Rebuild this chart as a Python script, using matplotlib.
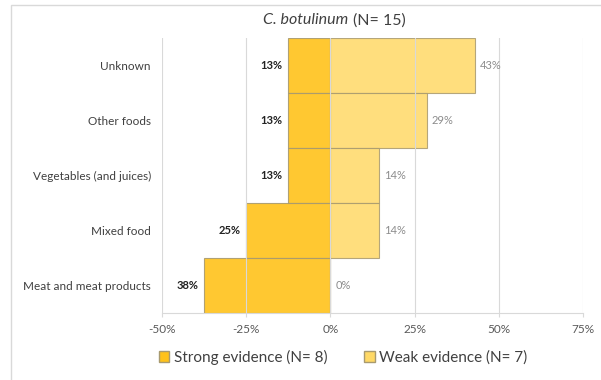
import matplotlib.pyplot as plt
from matplotlib.patches import Rectangle, Patch

plt.rcParams['font.family'] = ['Lato', 'DejaVu Sans']

# data (shares of outbreaks, %)
categories = ["Unknown", "Other foods", "Vegetables (and juices)", "Mixed food", "Meat and meat products"]
strong = [12.5, 12.5, 12.5, 25.0, 37.5]
weak = [42.9, 28.6, 14.3, 14.3, 0.0]
strong_labels = ["13%", "13%", "13%", "25%", "38%"]
weak_labels = ["43%", "29%", "14%", "14%", "0%"]
ticks = [-50, -25, 0, 25, 50, 75]

c_strong = "#FFC21A"
c_weak = "#FFD966"

fig = plt.figure(figsize=(6.01, 3.8), dpi=100)
fig.patches.append(Rectangle((0.019, -0.05), 1.1, 1.037, transform=fig.transFigure,
                             fill=False, edgecolor="#d9d9d9", linewidth=1))
ax = fig.add_axes([0.2696, 0.176, 0.7005, 0.724])

y = list(range(len(categories)))
ax.barh(y, [-v for v in strong], height=1.0, color=c_strong, alpha=0.9,
        edgecolor="#a89a70", linewidth=0.8, zorder=2)
ax.barh(y, weak, height=1.0, color=c_weak, alpha=0.85,
        edgecolor="#a89a70", linewidth=0.8, zorder=2)

for i in y:
    ax.text(-strong[i] - 1.8, i, strong_labels[i], ha="right", va="center",
            fontsize=8, fontweight="bold", color="#222222")
    ax.text(weak[i] + 1.5, i, weak_labels[i], ha="left", va="center",
            fontsize=8, color="#8c8c8c")

ax.set_xlim(-50, 75)
ax.set_ylim(len(categories) - 0.5, -0.5)
ax.set_yticks(y)
ax.set_yticklabels(categories, fontsize=8.5, color="#404040")
ax.set_xticks(ticks)
ax.set_xticklabels([f"{t}%" for t in ticks], fontsize=8.5, color="#595959")
ax.tick_params(axis="y", length=0, pad=8)
ax.tick_params(axis="x", length=3, color="#d9d9d9", pad=5)
ax.grid(axis="x", color="#d9d9d9", linewidth=0.8, zorder=3)
ax.set_axisbelow(False)
for s in ["top", "right", "left"]:
    ax.spines[s].set_visible(False)
ax.spines["bottom"].set_color("#d9d9d9")

fig.text(0.580, 0.947, "C. botulinum", ha="right", va="center", fontsize=11.5,
         style="italic", color="#404040")
fig.text(0.587, 0.947, "(N= 15)", ha="left", va="center", fontsize=11.5, color="#404040")

handles = [Patch(facecolor=c_strong, edgecolor="#a89a70"),
           Patch(facecolor=c_weak, edgecolor="#a89a70")]
fig.legend(handles, ["Strong evidence (N= 8)", "Weak evidence (N= 7)"],
           loc="center", bbox_to_anchor=(0.571, 0.06), ncol=2, frameon=False,
           fontsize=11, handlelength=0.7, handleheight=0.7, handletextpad=0.3,
           columnspacing=2.4, labelcolor="#404040")

fig.savefig("out.png", dpi=100)
